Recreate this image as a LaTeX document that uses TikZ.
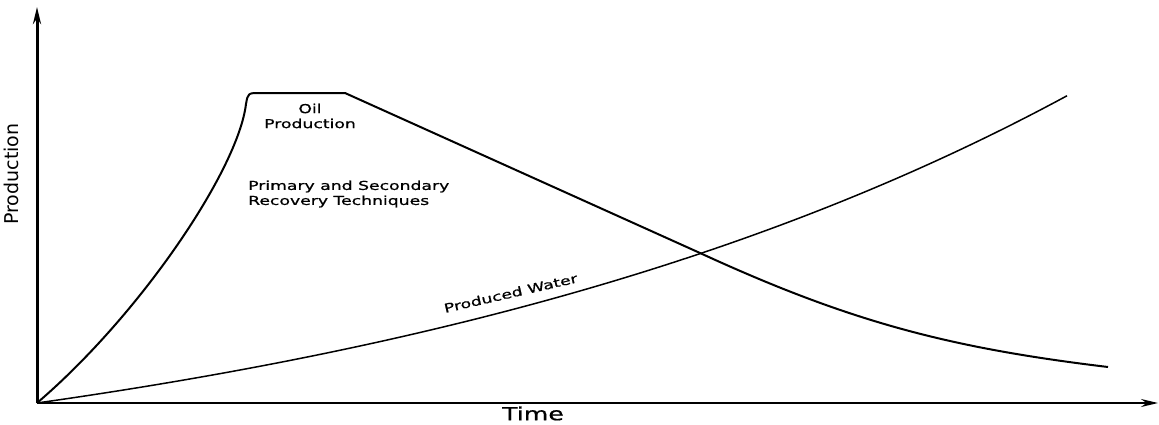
\documentclass[tikz,border=0pt]{standalone}
\usepackage{fontspec}
\setmainfont{DejaVu Sans}
\newfontfamily\widefont[FakeStretch=1.4,FakeBold=0.8]{DejaVu Sans} % растянутые подписи
\usetikzlibrary{arrows.meta}

\begin{document}
\begin{tikzpicture}[x=1pt,y=-1pt] % координаты в пикселях, ось y вниз
\tikzstyle{axis} = [line width=3pt, -{Stealth[length=17pt,width=8pt]}] % оси
\tikzstyle{oil} = [line width=2pt, line join=round] % кривая нефти
\tikzstyle{water} = [line width=1.5pt] % кривая воды
\tikzstyle{mylabel} = [font=\widefont\fontsize{12.3}{15}\selectfont, inner sep=0pt]

\useasboundingbox (0,0) rectangle (1159,424);
\coordinate (O) at (37,403);
\coordinate (ytop) at (37,7);
\coordinate (xend) at (1158,403);
\draw[axis] (O) -- (ytop);
\draw[axis, line width=2pt] (O) -- (xend);

% добыча нефти: рост, полка, спад
\draw[oil] (O) .. controls (140,315) and (238,170) .. (246,104)
    .. controls (248,93) .. (260,93) -- (345,93) -- (700,253)
    .. controls (850,322) and (950,348) .. (1108,367);

% попутная вода (экспонента)
\draw[water] plot[domain=0:1030, samples=80] ({37+\x}, {403-109.6*(exp(0.0013*\x)-1)});

\node[mylabel, align=center] (oillbl) at (310,116) {Oil\\Production};
\node[mylabel, align=left, anchor=west] (method) at (248,194) {Primary and Secondary\\Recovery Techniques};
\node[mylabel, anchor=base west, rotate=13] (waterlbl) at (445,313) {Produced Water};
\node[font=\widefont\fontsize{18}{20}\selectfont, inner sep=0pt] (time) at (533,413.5) {Time};
\node[font=\fontsize{19}{20}\selectfont, inner sep=0pt, rotate=90] (prod) at (11,174) {Production};
\end{tikzpicture}
\end{document}
